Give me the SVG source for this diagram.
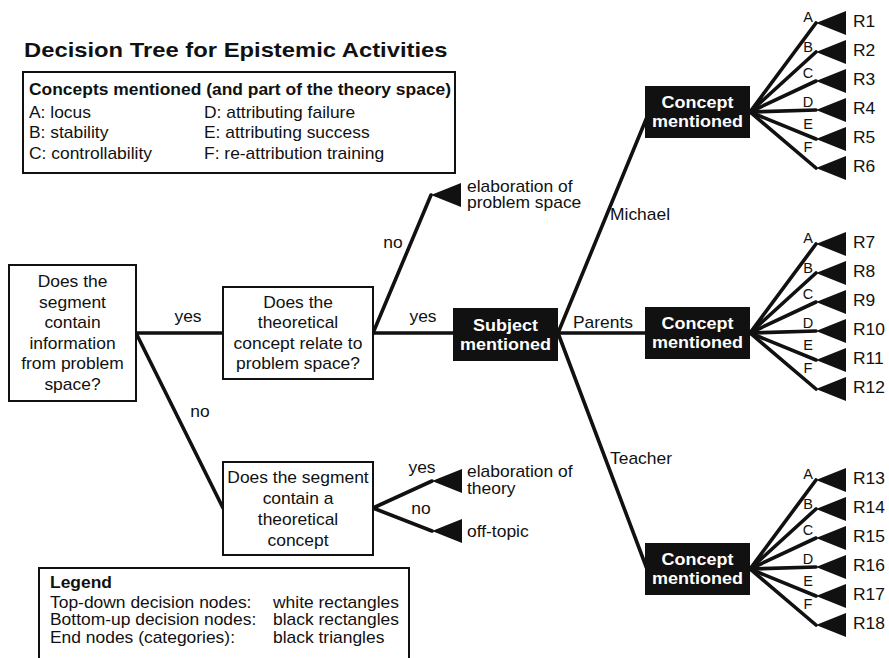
<svg xmlns="http://www.w3.org/2000/svg" width="889" height="658" viewBox="0 0 889 658">
  <defs>
    <style>
      text { font-family: "Liberation Sans", Arial, Helvetica, sans-serif; fill: #111; }
      .t { font-size: 16px; }
      .b { font-weight: bold; }
      .w { fill: #fff; font-weight: bold; font-size: 16.5px; }
      .sm { font-size: 14.5px; }
      .mid { text-anchor: middle; }
      .box { fill: #fff; stroke: #111; stroke-width: 2; }
      .blk { fill: #111; stroke: none; }
      .edge { stroke: #111; stroke-width: 3.6; fill: none; stroke-linecap: round; }
      .tri { fill: #111; }
    </style>
    <!-- end node: black triangle, tip at the origin, pointing left -->
    <polygon id="end" class="tri" points="0,0 30,-12 30,12"/>
  </defs>

  <!-- title -->
  <text class="b" font-size="19.5" transform="translate(24,57) scale(1.22,1)">Decision Tree for Epistemic Activities</text>

  <!-- concept key -->
  <g id="concept-key">
    <rect class="box" x="23" y="72" width="432" height="101"/>
    <text class="t b" transform="translate(29,95) scale(1.09,1)">Concepts mentioned (and part of the theory space)</text>
    <text class="t" transform="translate(29,0) scale(1.09,1)"><tspan x="0" y="118">A: locus</tspan><tspan x="0" y="138.5">B: stability</tspan><tspan x="0" y="159">C: controllability</tspan></text>
    <text class="t" transform="translate(204,0) scale(1.09,1)"><tspan x="0" y="118">D: attributing failure</tspan><tspan x="0" y="138.5">E: attributing success</tspan><tspan x="0" y="159">F: re-attribution training</tspan></text>
  </g>

  <!-- connectors -->
  <g id="connectors">
    <line class="edge" x1="136" y1="333" x2="223" y2="333"/>
    <line class="edge" x1="136" y1="333" x2="223" y2="508"/>
    <line class="edge" x1="373" y1="333" x2="431" y2="195"/>
    <line class="edge" x1="373" y1="333" x2="453" y2="333"/>
    <line class="edge" x1="373" y1="508" x2="432" y2="481"/>
    <line class="edge" x1="373" y1="508" x2="432" y2="531"/>
    <line class="edge" x1="558" y1="333" x2="647" y2="117"/>
    <line class="edge" x1="558" y1="333" x2="647" y2="333"/>
    <line class="edge" x1="558" y1="333" x2="647" y2="569"/>
    <!-- fan of concept branches, Michael -->
    <g transform="translate(750,112)">
      <line class="edge" x1="0" y1="0" x2="66" y2="-89"/>
      <line class="edge" x1="0" y1="0" x2="66" y2="-60"/>
      <line class="edge" x1="0" y1="0" x2="66" y2="-31"/>
      <line class="edge" x1="0" y1="0" x2="66" y2="-2"/>
      <line class="edge" x1="0" y1="0" x2="66" y2="27"/>
      <line class="edge" x1="0" y1="0" x2="66" y2="56"/>
    </g>
    <!-- fan of concept branches, Parents -->
    <g transform="translate(750,333)">
      <line class="edge" x1="0" y1="0" x2="66" y2="-89"/>
      <line class="edge" x1="0" y1="0" x2="66" y2="-60"/>
      <line class="edge" x1="0" y1="0" x2="66" y2="-31"/>
      <line class="edge" x1="0" y1="0" x2="66" y2="-2"/>
      <line class="edge" x1="0" y1="0" x2="66" y2="27"/>
      <line class="edge" x1="0" y1="0" x2="66" y2="56"/>
    </g>
    <!-- fan of concept branches, Teacher -->
    <g transform="translate(750,569)">
      <line class="edge" x1="0" y1="0" x2="66" y2="-89"/>
      <line class="edge" x1="0" y1="0" x2="66" y2="-60"/>
      <line class="edge" x1="0" y1="0" x2="66" y2="-31"/>
      <line class="edge" x1="0" y1="0" x2="66" y2="-2"/>
      <line class="edge" x1="0" y1="0" x2="66" y2="27"/>
      <line class="edge" x1="0" y1="0" x2="66" y2="56"/>
    </g>

    <!-- edge labels -->
    <g class="t">
      <text class="t mid" transform="translate(188,322) scale(1.09,1)">yes</text>
      <text class="t mid" transform="translate(200,417) scale(1.09,1)">no</text>
      <text class="t mid" transform="translate(393,248) scale(1.09,1)">no</text>
      <text class="t mid" transform="translate(423,322) scale(1.09,1)">yes</text>
      <text class="t mid" transform="translate(422,473) scale(1.09,1)">yes</text>
      <text class="t mid" transform="translate(421,514) scale(1.09,1)">no</text>
      <text class="t" transform="translate(610,220) scale(1.09,1)">Michael</text>
      <text class="t" transform="translate(573,328) scale(1.09,1)">Parents</text>
      <text class="t" transform="translate(610,464) scale(1.09,1)">Teacher</text>
    </g>
    <!-- A-F branch labels -->
    <g transform="translate(808,112)">
      <text class="sm mid" y="-90">A</text><text class="sm mid" y="-60">B</text><text class="sm mid" y="-34">C</text>
      <text class="sm mid" y="-5">D</text><text class="sm mid" y="17">E</text><text class="sm mid" y="40">F</text>
    </g>
    <g transform="translate(808,333)">
      <text class="sm mid" y="-90">A</text><text class="sm mid" y="-60">B</text><text class="sm mid" y="-34">C</text>
      <text class="sm mid" y="-5">D</text><text class="sm mid" y="17">E</text><text class="sm mid" y="40">F</text>
    </g>
    <g transform="translate(808,569)">
      <text class="sm mid" y="-90">A</text><text class="sm mid" y="-60">B</text><text class="sm mid" y="-34">C</text>
      <text class="sm mid" y="-5">D</text><text class="sm mid" y="17">E</text><text class="sm mid" y="40">F</text>
    </g>
  </g>

  <!-- top-down decision nodes -->
  <g id="q-problem-space">
    <rect class="box" x="9" y="265" width="127" height="136"/>
    <text class="t mid" transform="translate(72.5,0) scale(1.09,1)"><tspan x="0" y="287">Does the</tspan><tspan x="0" y="307.6">segment</tspan><tspan x="0" y="328.2">contain</tspan><tspan x="0" y="348.8">information</tspan><tspan x="0" y="369.4">from problem</tspan><tspan x="0" y="390">space?</tspan></text>
  </g>
  <g id="q-relate">
    <rect class="box" x="223" y="287" width="150" height="92"/>
    <text class="t mid" transform="translate(298,0) scale(1.09,1)"><tspan x="0" y="308">Does the</tspan><tspan x="0" y="328.5">theoretical</tspan><tspan x="0" y="349">concept relate to</tspan><tspan x="0" y="369.5">problem space?</tspan></text>
  </g>
  <g id="q-theory">
    <rect class="box" x="223" y="462" width="150" height="93"/>
    <text class="t mid" transform="translate(298,0) scale(1.09,1)"><tspan x="0" y="483">Does the segment</tspan><tspan x="0" y="504">contain a</tspan><tspan x="0" y="525">theoretical</tspan><tspan x="0" y="546">concept</tspan></text>
  </g>

  <!-- end nodes of the left part -->
  <g id="end-problem-space">
    <use href="#end" x="431" y="195"/>
    <text class="t" transform="translate(467,0) scale(1.09,1)"><tspan x="0" y="192">elaboration of</tspan><tspan x="0" y="208.5">problem space</tspan></text>
  </g>
  <g id="end-theory">
    <use href="#end" x="432" y="481"/>
    <text class="t" transform="translate(467,0) scale(1.09,1)"><tspan x="0" y="477">elaboration of</tspan><tspan x="0" y="494">theory</tspan></text>
  </g>
  <g id="end-off-topic">
    <use href="#end" x="432" y="531"/>
    <text class="t" transform="translate(467,537) scale(1.09,1)">off-topic</text>
  </g>

  <!-- bottom-up decision nodes -->
  <g id="subject">
    <rect class="blk" x="453" y="308" width="105" height="53"/>
    <text class="w mid" transform="translate(505.5,0) scale(1.09,1)"><tspan x="0" y="331">Subject</tspan><tspan x="0" y="350">mentioned</tspan></text>
  </g>
  <g id="concept-michael">
    <rect class="blk" x="645" y="86" width="105" height="52"/>
    <text class="w mid" transform="translate(697.5,0) scale(1.09,1)"><tspan x="0" y="108">Concept</tspan><tspan x="0" y="127.5">mentioned</tspan></text>
  </g>
  <g id="concept-parents">
    <rect class="blk" x="645" y="307" width="105" height="52"/>
    <text class="w mid" transform="translate(697.5,0) scale(1.09,1)"><tspan x="0" y="329">Concept</tspan><tspan x="0" y="348.5">mentioned</tspan></text>
  </g>
  <g id="concept-teacher">
    <rect class="blk" x="645" y="543" width="105" height="52"/>
    <text class="w mid" transform="translate(697.5,0) scale(1.09,1)"><tspan x="0" y="565">Concept</tspan><tspan x="0" y="584.5">mentioned</tspan></text>
  </g>

  <!-- result categories R1-R18 -->
  <g id="results-michael">
    <use href="#end" x="816" y="23"/><use href="#end" x="816" y="52"/><use href="#end" x="816" y="81"/>
    <use href="#end" x="816" y="110"/><use href="#end" x="816" y="139"/><use href="#end" x="816" y="168"/>
    <text class="t" transform="translate(853,0) scale(1.09,1)"><tspan x="0" y="27.5">R1</tspan><tspan x="0" y="56.5">R2</tspan><tspan x="0" y="85.5">R3</tspan><tspan x="0" y="114.5">R4</tspan><tspan x="0" y="143.5">R5</tspan><tspan x="0" y="172.5">R6</tspan></text>
  </g>
  <g id="results-parents">
    <use href="#end" x="816" y="244"/><use href="#end" x="816" y="273"/><use href="#end" x="816" y="302"/>
    <use href="#end" x="816" y="331"/><use href="#end" x="816" y="360"/><use href="#end" x="816" y="389"/>
    <text class="t" transform="translate(853,0) scale(1.09,1)"><tspan x="0" y="248.5">R7</tspan><tspan x="0" y="277.5">R8</tspan><tspan x="0" y="306.5">R9</tspan><tspan x="0" y="335.5">R10</tspan><tspan x="0" y="364.5">R11</tspan><tspan x="0" y="393.5">R12</tspan></text>
  </g>
  <g id="results-teacher">
    <use href="#end" x="816" y="480"/><use href="#end" x="816" y="509"/><use href="#end" x="816" y="538"/>
    <use href="#end" x="816" y="567"/><use href="#end" x="816" y="596"/><use href="#end" x="816" y="625"/>
    <text class="t" transform="translate(853,0) scale(1.09,1)"><tspan x="0" y="484.5">R13</tspan><tspan x="0" y="513.5">R14</tspan><tspan x="0" y="542.5">R15</tspan><tspan x="0" y="571.5">R16</tspan><tspan x="0" y="600.5">R17</tspan><tspan x="0" y="629.5">R18</tspan></text>
  </g>

  <!-- legend -->
  <g id="legend">
    <rect class="box" x="39" y="568" width="370" height="120"/>
    <text class="t b" transform="translate(50,588) scale(1.09,1)">Legend</text>
    <text class="t" transform="translate(50,0) scale(1.09,1)"><tspan x="0" y="608">Top-down decision nodes:</tspan><tspan x="0" y="625.5">Bottom-up decision nodes:</tspan><tspan x="0" y="643">End nodes (categories):</tspan></text>
    <text class="t" transform="translate(273,0) scale(1.09,1)"><tspan x="0" y="608">white rectangles</tspan><tspan x="0" y="625.5">black rectangles</tspan><tspan x="0" y="643">black triangles</tspan></text>
  </g>
</svg>
